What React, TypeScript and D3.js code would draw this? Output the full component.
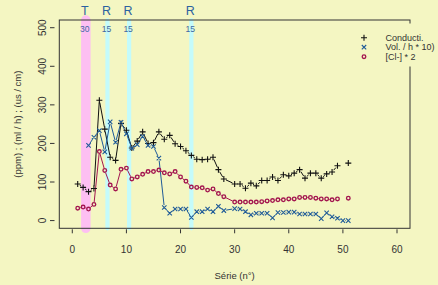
import React from 'react';
import * as d3 from 'd3';

// series numbers (n° 29 is absent from the data)
const serie = [1, 2, 3, 4, 5, 6, 7, 8, 9, 10, 11, 12, 13, 14, 15, 16, 17, 18, 19, 20,
  21, 22, 23, 24, 25, 26, 27, 28, 30, 31, 32, 33, 34, 35, 36, 37, 38, 39, 40,
  41, 42, 43, 44, 45, 46, 47, 48, 49, 50, 51];

const conducti = [95, 86, 75, 83, 312, 237, 164, 156, 252, 234, 188, 206, 230, 200, 202, 230, 211, 221, 199, 192,
  181, 169, 159, 158, 159, 164, 132, 108, 95, 95, 84, 97, 90, 104, 104, 113, 104, 119, 116,
  123, 132, 110, 123, 123, 110, 121, 126, 142, null, 149];

const volume = [null, null, 195, 216, 233, 178, 256, 203, 255, 225, 188, 197, 218, 195, 192, 162, 34, 19, 30, 30,
  30, 8, 23, 23, 30, 23, 37, 26, 31, 30, 23, 15, 19, 19, 19, 7, 21, 21, 22,
  22, 17, 17, 17, 17, 5, 20, 10, 6, 0, 0];

const chlorure = [32, 35, 30, 42, 179, 130, 92, 82, 133, 136, 108, 113, 120, 127, 127, 131, 124, 121, 127, 113,
  102, 87, 86, 85, 79, 82, 70, 62, 48, 48, 48, 48, 48, 49, 51, 52, 54, 54, 56,
  56, 60, 60, 60, 58, 56, 56, 54, 56, null, 58];

// vertical markers
const markPos = [2.5, 6.5, 10.5, 22];
const markLetter = ['T', 'R', 'R', 'R'];
const markNum = ['30', '15', '15', '15'];

const legendLabels = ['Conducti.', 'Vol. / h * 10)', '[Cl-] * 2'];
const xTicks = [0, 10, 20, 30, 40, 50, 60];
const yTicks = [0, 100, 200, 300, 400, 500];

const W = 438, H = 285;
const bg = '#f4f6c2';
const left = 59.3, right = 410, top = 20, bottom = 228.3;
const colBlack = '#111111', colBlue = '#1f5b98', colRed = '#a3164f';

const x = d3.scaleLinear().domain([-2.4, 62.4]).range([left, right]);
const y = d3.scaleLinear().domain([-20, 520]).range([bottom, top]);

// R type="b": segments between points, kept away from the symbols
function gapSegments(vals: (number | null)[], gap: number) {
  const out: string[] = [];
  for (let i = 0; i < vals.length - 1; i++) {
    const a = vals[i], b = vals[i + 1];
    if (a == null || b == null) continue;
    const x1 = x(serie[i]), y1 = y(a), x2 = x(serie[i + 1]), y2 = y(b);
    const d = Math.hypot(x2 - x1, y2 - y1);
    if (d <= 2 * gap) continue;
    const ux = (x2 - x1) / d, uy = (y2 - y1) / d;
    out.push(`M${x1 + ux * gap},${y1 + uy * gap}L${x2 - ux * gap},${y2 - uy * gap}`);
  }
  return out.join('');
}

const plus = (cx: number, cy: number, s: number) => `M${cx - s},${cy}H${cx + s}M${cx},${cy - s}V${cy + s}`;
const cross = (cx: number, cy: number, s: number) =>
  `M${cx - s},${cy - s}L${cx + s},${cy + s}M${cx - s},${cy + s}L${cx + s},${cy - s}`;

export default function App() {
  const font = 'Liberation Sans, Arial, sans-serif';
  return (
    <svg width={W} height={H} style={{ position: 'absolute', left: 0, top: 0, background: bg }} fontFamily={font}>
      <rect x={0} y={0} width={W} height={H} fill={bg} />

      {/* marker bands */}
      {markPos.map((m, i) => (
        <line key={'b' + i} x1={x(m)} x2={x(m)} y1={top} y2={bottom}
          stroke={i === 0 ? '#fdbff2' : '#c4fbfb'} strokeWidth={i === 0 ? 9.5 : 4.2} strokeLinecap="round" />
      ))}
      {markPos.map((m, i) => (
        <g key={'t' + i}>
          <text x={x(m) - 1} y={15} textAnchor="middle" fontSize={12.5} fill="#2b62a0">{markLetter[i]}</text>
          <text x={x(m) - 1} y={32} textAnchor="middle" fontSize={8.5} fill="#4068a4">{markNum[i]}</text>
        </g>
      ))}

      {/* series lines */}
      <path d={gapSegments(conducti, 2.4)} stroke={colBlack} strokeWidth={1} fill="none" />
      <path d={gapSegments(volume, 2.4)} stroke={colBlue} strokeWidth={1} fill="none" />
      <path d={gapSegments(chlorure, 2.4)} stroke={colRed} strokeWidth={1} fill="none" />

      {/* points */}
      <path d={conducti.map((v, i) => v == null ? '' : plus(x(serie[i]), y(v), 3)).join('')}
        stroke={colBlack} strokeWidth={1.1} fill="none" />
      <path d={volume.map((v, i) => v == null ? '' : cross(x(serie[i]), y(v), 2.2)).join('')}
        stroke={colBlue} strokeWidth={1.1} fill="none" />
      {chlorure.map((v, i) => v == null ? null : (
        <circle key={'c' + i} cx={x(serie[i])} cy={y(v)} r={1.8} stroke={colRed} strokeWidth={1.35} fill="none" />
      ))}

      {/* box */}
      <rect x={left} y={top} width={right - left} height={bottom - top} fill="none" stroke="#333" strokeWidth={1} />

      {/* axes */}
      {xTicks.map(t => (
        <g key={'x' + t}>
          <line x1={x(t)} x2={x(t)} y1={bottom + 1} y2={bottom + 5} stroke="#333" />
          <text x={x(t)} y={252.5} textAnchor="middle" fontSize={10} fill="#333">{t}</text>
        </g>
      ))}
      {yTicks.map(t => (
        <g key={'y' + t}>
          <line x1={50} x2={54.5} y1={y(t)} y2={y(t)} stroke="#333" />
          <text transform={`translate(45.5,${y(t)}) rotate(-90)`} textAnchor="middle" fontSize={10} fill="#333">{t}</text>
        </g>
      ))}
      <text x={(left + right) / 2} y={279} textAnchor="middle" fontSize={9.5} fill="#333">Série (n°)</text>
      <text transform={`translate(20.5,${(top + bottom) / 2}) rotate(-90)`} textAnchor="middle" fontSize={9.5} fill="#333">
        (ppm) ; (ml / h) ; (us / cm)
      </text>

      {/* legend */}
      <rect x={356} y={23.5} width={82} height={43} fill={bg} />
      {legendLabels.map((l, i) => {
        const ly = 37.7 + i * 9.5;
        return (
          <g key={'l' + i}>
            {i === 0 && <path d={plus(364, ly, 3)} stroke={colBlack} strokeWidth={1.1} />}
            {i === 1 && <path d={cross(364, ly, 2.2)} stroke={colBlue} strokeWidth={1.1} />}
            {i === 2 && <circle cx={364} cy={ly} r={1.8} stroke={colRed} strokeWidth={1.35} fill="none" />}
            <text x={385.5} y={ly} dy="0.35em" fontSize={9} fill="#333">{l}</text>
          </g>
        );
      })}
    </svg>
  );
}
